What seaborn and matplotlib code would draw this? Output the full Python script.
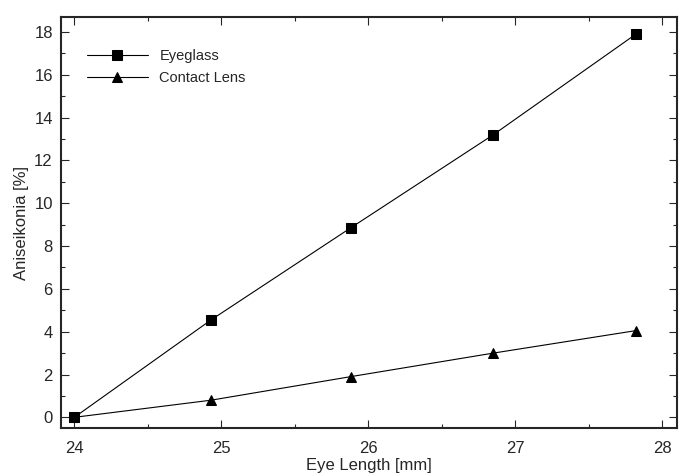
import pandas as pd
import numpy as np
import matplotlib
matplotlib.use("Agg")
import matplotlib.pyplot as plt
import seaborn as sns
from matplotlib.ticker import MultipleLocator

sns.set_style("ticks")
plt.rcParams['font.family'] = ['Liberation Sans', 'DejaVu Sans']

# eye length [mm]
eye_len = [24.0, 24.93, 25.88, 26.85, 27.82]
eyeglass = [0.0, 4.55, 8.85, 13.2, 17.9]
contact = [0.0, 0.8, 1.9, 3.0, 4.05]
series = ["Eyeglass", "Contact Lens"]

data = pd.DataFrame({
    "Eye Length [mm]": eye_len * 2,
    "Aniseikonia [%]": eyeglass + contact,
    "kind": [series[0]] * 5 + [series[1]] * 5,
})

fig = plt.figure(figsize=(6.79, 4.74), dpi=100)
ax = fig.add_axes([0.09, 0.097, 0.907, 0.867])

sns.lineplot(data=data, x="Eye Length [mm]", y="Aniseikonia [%]", hue="kind", style="kind",
             markers={"Eyeglass": "s", "Contact Lens": "^"}, dashes=False,
             palette={"Eyeglass": "black", "Contact Lens": "black"},
             markersize=7, linewidth=0.8, markeredgecolor="black", ax=ax)

ax.set_xlim(23.91, 28.1)
ax.set_ylim(-0.5, 18.7)
ax.xaxis.set_major_locator(MultipleLocator(1))
ax.xaxis.set_minor_locator(MultipleLocator(0.5))
ax.yaxis.set_major_locator(MultipleLocator(2))
ax.yaxis.set_minor_locator(MultipleLocator(1))
ax.tick_params(which="both", direction="in", top=True, right=True, labelsize=12, width=0.8)
ax.tick_params(which="major", length=6)
ax.tick_params(which="minor", length=3)
ax.tick_params(axis="x", which="major", pad=9)
ax.tick_params(axis="y", which="major", pad=6)
for s in ax.spines.values():
    s.set_linewidth(1.5)
ax.set_xlabel("Eye Length [mm]", fontsize=12, labelpad=2)
ax.set_ylabel("Aniseikonia [%]", fontsize=12, labelpad=4)

leg = ax.legend(title=None, loc="upper left", frameon=False, fontsize=10.5,
                handlelength=4.2, bbox_to_anchor=(0.02, 0.955), labelspacing=0.6,
                handletextpad=0.8)

fig.savefig("out.png", dpi=100)
